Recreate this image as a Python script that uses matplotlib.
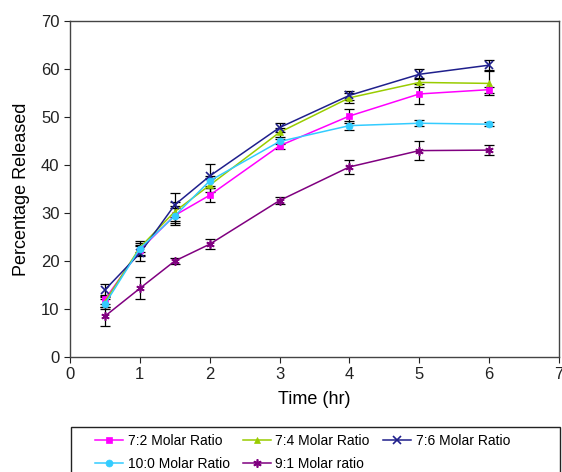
import matplotlib
matplotlib.use("Agg")
import matplotlib.pyplot as plt
from matplotlib.patches import Rectangle

plt.rcParams['font.family'] = ['Liberation Sans', 'DejaVu Sans']

# release data, time points in hours
time_hr = [0.5, 1, 1.5, 2, 3, 4, 5, 6]

ratio_72 = [12.0, 22.3, 29.5, 33.7, 44.0, 50.2, 54.8, 55.7]
ratio_72_err = [1.0, 1.0, 1.5, 1.5, 0.6, 1.5, 2.0, 0.6]

ratio_74 = [11.5, 22.8, 30.3, 35.8, 46.8, 54.0, 57.2, 57.0]
ratio_74_err = [1.0, 1.0, 2.0, 1.5, 1.0, 1.0, 1.0, 2.5]

ratio_76 = [14.0, 21.6, 31.7, 37.7, 47.8, 54.5, 58.9, 60.8]
ratio_76_err = [1.2, 1.5, 2.5, 2.5, 1.0, 1.0, 1.0, 1.0]

ratio_100 = [11.0, 22.6, 29.4, 36.7, 44.9, 48.2, 48.7, 48.5]
ratio_100_err = [1.0, 1.5, 2.0, 1.0, 0.5, 1.0, 0.6, 0.4]

ratio_91 = [8.5, 14.3, 20.0, 23.5, 32.6, 39.6, 43.0, 43.1]
ratio_91_err = [2.0, 2.3, 0.6, 1.0, 0.7, 1.5, 2.0, 1.0]

series = [
    ("7:2 Molar Ratio", ratio_72, ratio_72_err, "#FF00FF", "s"),
    ("7:4 Molar Ratio", ratio_74, ratio_74_err, "#99CC00", "^"),
    ("7:6 Molar Ratio", ratio_76, ratio_76_err, "#1F1F8C", "x"),
    ("10:0 Molar Ratio", ratio_100, ratio_100_err, "#33CCFF", "o"),
    ("9:1 Molar ratio", ratio_91, ratio_91_err, "#800080", (6, 2, 0)),
]

W, H = 562, 472
fig = plt.figure(figsize=(W / 100, H / 100), dpi=100)
ax = fig.add_axes([70/W, 1-357/H, 489/W, 336/H])

handles = {}
for label, vals, errs, color, mk in series:
    ax.errorbar(time_hr, vals, yerr=errs, fmt='none', ecolor='black',
                elinewidth=0.9, capsize=3.5, capthick=0.9, zorder=2)
    thin = mk in ("x", (6, 2, 0))
    h, = ax.plot(time_hr, vals, color=color, lw=1.1, marker=mk,
                 markersize=6 if thin else 5,
                 markeredgewidth=1.2 if thin else 0.5,
                 markeredgecolor=color, label=label, zorder=3)
    handles[label] = h

ax.set_xlim(0, 7)
ax.set_ylim(0, 70)
ax.set_xticks(range(0, 8))
ax.set_yticks(range(0, 71, 10))
ax.tick_params(direction='out', length=4, width=0.8, labelsize=12, colors='#222222')
for sp in ax.spines.values():
    sp.set_color('#444444')
    sp.set_linewidth(1.0)

ax.set_xlabel("Time (hr)", fontsize=13, labelpad=6)
ax.set_ylabel("Percentage Released", fontsize=13, labelpad=8)

# legend box runs off the bottom edge of the figure
fig.patches.append(Rectangle((71/W, -0.05), (560-71)/W, 0.05 + 1-427/H,
                             transform=fig.transFigure, fill=False,
                             edgecolor='#222222', linewidth=1.0))

# legend fills column by column, so order entries to read row-wise
order = ["7:2 Molar Ratio", "10:0 Molar Ratio", "7:4 Molar Ratio",
         "9:1 Molar ratio", "7:6 Molar Ratio"]
leg = fig.legend(handles=[handles[k] for k in order], ncol=3, loc='upper left',
                 bbox_to_anchor=(95/W, 1-434/H), frameon=False,
                 fontsize=10, handlelength=2.0, handletextpad=0.35,
                 borderaxespad=0, borderpad=0, labelspacing=0.65,
                 columnspacing=0.95)

fig.savefig("out.png", dpi=100)
